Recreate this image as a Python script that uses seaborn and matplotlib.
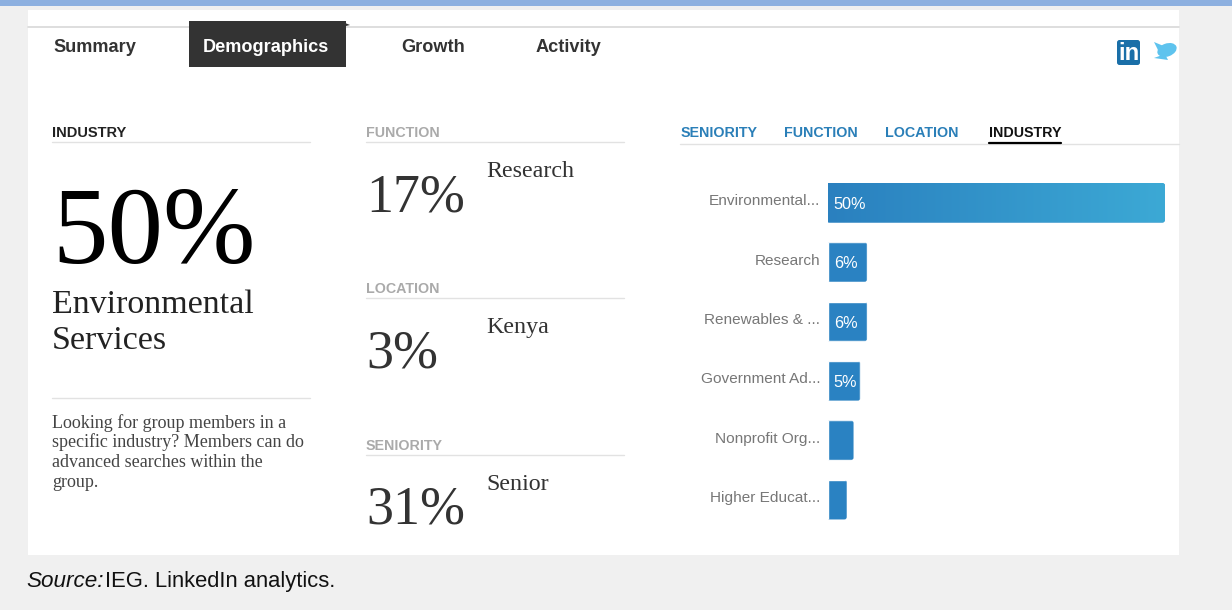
import numpy as np
import pandas as pd
import seaborn as sns
import matplotlib.pyplot as plt
from matplotlib.patches import Rectangle, FancyBboxPatch, Ellipse, Polygon
from matplotlib.transforms import ScaledTranslation

# data
industries = ['Environmental...', 'Research', 'Renewables & ...', 'Government Ad...', 'Nonprofit Org...', 'Higher Educat...']
shares = [50, 5.8, 5.8, 4.8, 3.8, 2.8]
share_labels = ['50%', '6%', '6%', '5%', '', '']
tabs = ['Summary', 'Demographics', 'Growth', 'Activity']
sub_tabs = ['SENIORITY', 'FUNCTION', 'LOCATION', 'INDUSTRY']
side_heads = ['FUNCTION', 'LOCATION', 'SENIORITY']
side_values = ['17%', '3%', '31%']
side_names = ['Research', 'Kenya', 'Senior']

sns.set_theme(style='white')
SANS = 'Liberation Sans'
SERIF = 'Liberation Serif'
plt.rcParams['font.family'] = [SANS, 'DejaVu Sans']

PX = 0.72  # font size per pixel at dpi 100
fig = plt.figure(figsize=(12.32, 6.10), dpi=100, facecolor='#f0f0f0')

# page furniture, drawn in pixel coordinates
bg = fig.add_axes([0, 0, 1, 1])
bg.set_xlim(0, 1232)
bg.set_ylim(610, 0)
bg.axis('off')
bg.add_patch(Rectangle((0, 0), 1232, 6, color='#8db0e0', lw=0))
bg.add_patch(Rectangle((28, 10), 1151, 545, color='white', lw=0))
bg.plot([28, 1179], [27, 27], color='#d8d8d8', lw=1.2)

# tabs
bg.add_patch(Rectangle((189, 21), 157, 46, color='#333333', lw=0, zorder=3))
bg.add_patch(Polygon([[340, 21], [350, 25], [346, 26]], color='#333333', lw=0, zorder=3))
for label, x in zip(tabs, [53, 203, 401, 536]):
    col = 'white' if label == 'Demographics' else '#333333'
    bg.text(x, 52, label, fontsize=18.2 * PX, fontweight='bold', color=col, va='baseline', zorder=4)

# left column
bg.text(52, 137, 'INDUSTRY', fontsize=14.6 * PX, fontweight='bold', color='#222222', va='baseline')
bg.plot([52, 310], [142, 142], color='#e2e2e2', lw=1)
bg.text(52, 263, '50%', fontsize=111 * PX, color='black', family=SERIF, va='baseline')
bg.text(52, 313, 'Environmental', fontsize=34 * PX, color='#222222', family=SERIF, va='baseline')
bg.text(52, 349, 'Services', fontsize=34 * PX, color='#222222', family=SERIF, va='baseline')
bg.plot([52, 310], [398, 398], color='#e2e2e2', lw=1)
blurb = ['Looking for group members in a', 'specific industry? Members can do',
         'advanced searches within the', 'group.']
for line, y in zip(blurb, [428, 447, 467, 487]):
    bg.text(52, y, line, fontsize=18 * PX, color='#444444', family=SERIF, va='baseline')

# middle column
for head, val, name, y0 in zip(side_heads, side_values, side_names, [132, 288, 445]):
    bg.text(366, y0 + 5, head, fontsize=14.2 * PX, fontweight='bold', color='#aaaaaa', va='baseline')
    bg.plot([366, 624], [y0 + 10, y0 + 10], color='#e2e2e2', lw=1)
    bg.text(366, y0 + 79, val, fontsize=54 * PX, color='#333333', family=SERIF, va='baseline')
    bg.text(486, y0 + 45, name, fontsize=24 * PX, color='#333333', family=SERIF, va='baseline')

# right column sub tabs
for label, x in zip(sub_tabs, [681, 784, 885, 989]):
    col = '#111111' if label == 'INDUSTRY' else '#2a7fb8'
    bg.text(x, 137, label, fontsize=14.3 * PX, fontweight='bold', color=col, va='baseline')
bg.plot([680, 1179], [143.5, 143.5], color='#e2e2e2', lw=1)
bg.plot([989, 1061], [143, 143], color='black', lw=1.6)

# social icons
bg.add_patch(FancyBboxPatch((1117, 40), 23, 25, boxstyle='round,pad=0,rounding_size=2.5', color='#1a6fa8', lw=0))
bg.text(1128.5, 53, 'in', fontsize=24 * PX, fontweight='bold', color='white', ha='center', va='center')
bird = Ellipse((1167, 50), 20, 13, angle=-20, color='#5ec3ee', lw=0)
bg.add_patch(bird)
bg.add_patch(Polygon([[1154, 42], [1166, 47], [1160, 54]], color='#5ec3ee', lw=0))
bg.add_patch(Polygon([[1154, 58], [1165, 54], [1168, 60]], color='#5ec3ee', lw=0))
for p in bg.patches[-3:]:
    p.set_clip_path(Rectangle((28, 10), 1151, 545, transform=bg.transData))

# source note
bg.text(26, 587, 'Source:', fontsize=22.5 * PX, style='italic', color='#111111', va='baseline')
bg.text(105, 587, 'IEG. LinkedIn analytics.', fontsize=22 * PX, color='#111111', va='baseline')

# the bar chart
W, H = 1232, 610
ax = fig.add_axes([828 / W, 1 - 529.4 / H, 337 / W, 356.4 / H])
ax.patch.set_alpha(0)
df = pd.DataFrame({'industry': industries, 'share': shares})
sns.barplot(data=df, x='share', y='industry', color='#2a82c2', saturation=1, width=0.667, ax=ax)
ax.set_xlim(0, 50)
ax.set_ylim(5.5, -0.5)
ax.set_xlabel('')
ax.set_ylabel('')
ax.set_xticks([])
sns.despine(ax=ax, left=True, bottom=True)
ax.tick_params(axis='y', length=0, pad=5.5, labelsize=15.4 * PX, labelcolor='#777777')
lift = ScaledTranslation(0, 2.2 / 72, fig.dpi_scale_trans)
for lab in ax.get_yticklabels():
    lab.set_transform(lab.get_transform() + lift)

# rounded right corners, gradient on the long bar
for bar, text in zip(ax.patches, share_labels):
    x0, y0, w, h = bar.get_x(), bar.get_y(), bar.get_width(), bar.get_height()
    clip = FancyBboxPatch((x0 - 2, y0), w + 2, h, boxstyle='round,pad=0,rounding_size=0.4',
                          mutation_aspect=0.113, transform=ax.transData)
    bar.set_clip_path(clip)
    if text:
        ax.text(x0 + 0.85, y0 + h / 2 + 0.03, text, color='white', fontsize=16.3 * PX, va='center', zorder=5)
first = ax.patches[0]
grad = ax.imshow(np.linspace(0, 1, 256).reshape(1, -1), extent=(0, 50, first.get_y() + first.get_height(), first.get_y()),
                 cmap=sns.blend_palette(['#2a80bf', '#3ca9d5'], as_cmap=True), aspect='auto', zorder=first.get_zorder() + 0.1)
grad.set_clip_path(first.get_clip_path())
ax.set_xlim(0, 50)
ax.set_ylim(5.5, -0.5)

fig.savefig('out.png', dpi=100, facecolor=fig.get_facecolor())
